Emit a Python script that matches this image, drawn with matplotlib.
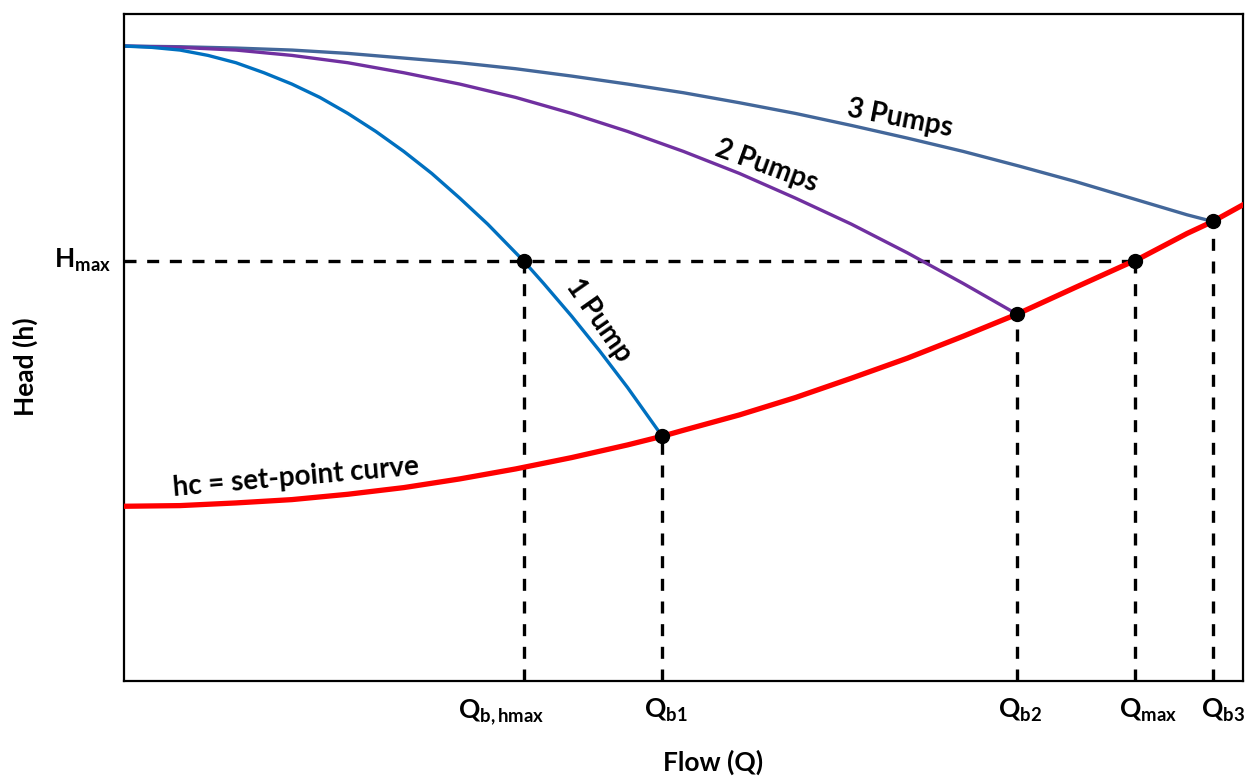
import matplotlib
matplotlib.use("Agg")
import matplotlib.pyplot as plt

plt.rcParams['font.family'] = ['Lato', 'DejaVu Sans']
plt.rcParams['font.weight'] = 'bold'
plt.rcParams['mathtext.fontset'] = 'custom'
plt.rcParams['mathtext.rm'] = 'Lato:bold'
plt.rcParams['mathtext.it'] = 'Lato:bold'
plt.rcParams['mathtext.bf'] = 'Lato:bold'

# 曲线数据（从图上读取，横轴 Q 0~100，纵轴 h 0~100）
q_one = [0, 2.5, 5, 7.5, 10, 12.5, 15, 17.5, 20, 22.5, 25, 27.5, 30, 32.5, 35, 35.7,
         37.5, 40, 42.5, 45, 47.5, 48.1]
h_one = [95.2, 95.0, 94.6, 93.8, 92.7, 91.2, 89.5, 87.5, 85.1, 82.4, 79.4, 76.1, 72.4,
         68.5, 64.2, 63.0, 59.6, 54.7, 49.5, 44.0, 38.1, 36.7]

q_two = [0, 5, 10, 15, 20, 25, 30, 35, 40, 45, 50, 55, 60, 65, 70, 75, 79.8]
h_two = [95.2, 95.0, 94.6, 93.8, 92.7, 91.2, 89.5, 87.5, 85.1, 82.4, 79.4, 76.1, 72.4,
         68.5, 64.2, 59.6, 55.0]

q_three = [0, 5, 10, 15, 20, 25, 30, 35, 40, 45, 50, 55, 60, 65, 70, 75, 80, 85, 90, 95, 97.3]
h_three = [95.2, 95.1, 94.9, 94.6, 94.1, 93.4, 92.7, 91.8, 90.7, 89.5, 88.2, 86.7, 85.1,
           83.3, 81.4, 79.4, 77.2, 74.9, 72.4, 69.9, 68.9]

q_set = [0, 5, 10, 15, 20, 25, 30, 35, 40, 45, 48.1, 50, 55, 60, 65, 70, 75, 79.8,
         85, 90, 90.35, 95, 97.3, 100]
h_set = [26.2, 26.3, 26.7, 27.2, 28.0, 29.0, 30.3, 31.8, 33.5, 35.4, 36.7, 37.6, 39.9,
         42.5, 45.4, 48.4, 51.7, 55.0, 59.0, 62.8, 63.0, 67.1, 68.9, 71.4]

# 关键点
pt_q = [35.7, 48.1, 79.8, 90.35, 97.3]
pt_h = [63.0, 36.7, 55.0, 63.0, 68.9]
pt_labels = [r'$\mathrm{Q_{b,hmax}}$', r'$\mathrm{Q_{b1}}$', r'$\mathrm{Q_{b2}}$',
             r'$\mathrm{Q_{max}}$', r'$\mathrm{Q_{b3}}$']
label_dx = [-2.0, 0.3, 0.3, 1.2, 0.9]
h_max = 63.0
q_max = 90.35

fig = plt.figure(figsize=(12.48, 7.76), dpi=100)
ax = fig.add_axes([0.0994, 0.1224, 0.8966, 0.8595])
ax.set_xlim(0, 100)
ax.set_ylim(0, 100)

ax.plot(q_three, h_three, color="#43679A", lw=2.4, zorder=2)
ax.plot(q_two, h_two, color="#7030A0", lw=2.4, zorder=2)
ax.plot(q_one, h_one, color="#0070C0", lw=2.4, zorder=2)
ax.plot(q_set, h_set, color="#FF0000", lw=3.8, zorder=3)

# 虚线
dash = (0, (3.6, 3.2))
ax.plot([0, q_max], [h_max, h_max], color="k", lw=2.4, ls=dash, zorder=1)
for q, h in zip(pt_q, pt_h):
    ax.plot([q, q], [0, h], color="k", lw=2.4, ls=dash, zorder=1)
ax.plot(pt_q, pt_h, "o", color="k", markersize=10, zorder=4)

ax.set_xticks([])
ax.set_yticks([])
for s in ax.spines.values():
    s.set_linewidth(1.6)

for q, dx, lab in zip(pt_q, label_dx, pt_labels):
    ax.text(q + dx, -2.4, lab, ha="center", va="top", fontsize=19)
ax.text(-1.2, h_max, r'$\mathrm{H_{max}}$', ha="right", va="center", fontsize=19)

ax.text(42.4, 54.1, "1 Pump", rotation=-55, ha="center", va="center", fontsize=20)
ax.text(57.4, 77.2, "2 Pumps", rotation=-20, ha="center", va="center", fontsize=20)
ax.text(69.3, 84.4, "3 Pumps", rotation=-11, ha="center", va="center", fontsize=20)
ax.text(15.4, 30.6, "hc = set-point curve", rotation=5, ha="center", va="center", fontsize=20)

fig.text(0.571, 0.018, "Flow (Q)", ha="center", va="center", fontsize=19)
fig.text(0.02, 0.527, "Head (h)", ha="center", va="center", rotation=90, fontsize=19)

fig.savefig("out.png", dpi=100)
